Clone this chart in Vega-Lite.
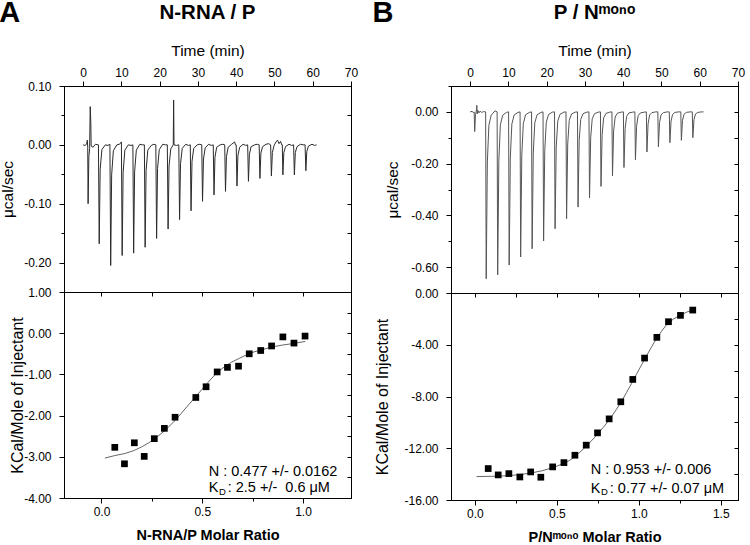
{
  "$schema": "https://vega.github.io/schema/vega-lite/v6.json",
  "padding": {"left": -1, "top": -1, "right": 5, "bottom": 2},
  "config": {
    "font": "Liberation Sans",
    "locale": {"number": {"decimal": ".", "thousands": ",", "grouping": [3], "currency": ["$", ""], "minus": "-"}},
    "view": {"stroke": "black", "strokeWidth": 1},
    "axis": {"grid": false, "domainColor": "black", "tickColor": "black", "labelColor": "black", "titleColor": "black", "labelFontSize": 12, "titleFontSize": 15.5, "titleFontWeight": "normal", "labelPadding": 5, "labelOverlap": false, "labelFlush": false, "tickWidth": 1, "domainWidth": 1},
    "title": {"color": "black"}
  },
  "datasets": {
    "thermoA": [
      {"t":0.0,"v":0.000},{"t":0.5,"v":-0.001},{"t":0.9,"v":0.001},{"t":1.1,"v":0.008},{"t":1.2,"v":-0.004},{"t":1.3,"v":-0.100},{"t":1.5,"v":-0.020},{"t":1.7,"v":-0.006},{"t":1.85,"v":0.065},{"t":2.0,"v":0.040},{"t":2.1,"v":-0.002},{"t":2.6,"v":-0.004},{"t":3.2,"v":0.001},
      {"t":4.0,"v":0.000},{"t":4.2,"v":-0.168},{"t":4.45,"v":-0.042},{"t":4.9,"v":-0.008},{"t":5.8,"v":0.000},{"t":6.5,"v":-0.001},
      {"t":7.0,"v":0.001},{"t":7.2,"v":-0.205},{"t":7.45,"v":-0.051},{"t":7.9,"v":-0.010},{"t":8.8,"v":0.000},{"t":9.5,"v":0.001},
      {"t":10.0,"v":0.005},{"t":10.2,"v":-0.188},{"t":10.45,"v":-0.047},{"t":10.9,"v":-0.009},{"t":11.8,"v":0.000},{"t":12.5,"v":-0.001},
      {"t":13.0,"v":0.000},{"t":13.2,"v":-0.184},{"t":13.45,"v":-0.046},{"t":13.9,"v":-0.009},{"t":14.8,"v":0.001},{"t":15.5,"v":0.000},
      {"t":16.0,"v":0.000},{"t":16.2,"v":-0.174},{"t":16.45,"v":-0.044},{"t":16.9,"v":-0.009},{"t":17.8,"v":-0.001},{"t":18.5,"v":0.001},
      {"t":19.0,"v":0.000},{"t":19.2,"v":-0.159},{"t":19.45,"v":-0.040},{"t":19.9,"v":-0.008},{"t":20.8,"v":0.001},{"t":21.5,"v":0.000},
      {"t":22.0,"v":0.000},{"t":22.2,"v":-0.143},{"t":22.45,"v":-0.036},{"t":22.9,"v":-0.007},{"t":23.55,"v":0.000},{"t":23.65,"v":0.076},{"t":23.75,"v":0.000},{"t":24.4,"v":-0.001},
      {"t":25.0,"v":0.000},{"t":25.2,"v":-0.127},{"t":25.45,"v":-0.032},{"t":25.9,"v":-0.006},{"t":26.8,"v":0.001},{"t":27.5,"v":-0.001},
      {"t":28.0,"v":0.000},{"t":28.2,"v":-0.112},{"t":28.45,"v":-0.028},{"t":28.9,"v":-0.006},{"t":29.8,"v":0.000},{"t":30.5,"v":0.001},
      {"t":31.0,"v":0.000},{"t":31.2,"v":-0.096},{"t":31.45,"v":-0.024},{"t":31.9,"v":-0.005},{"t":32.8,"v":0.001},{"t":33.5,"v":-0.001},
      {"t":34.0,"v":0.000},{"t":34.2,"v":-0.085},{"t":34.45,"v":-0.021},{"t":34.9,"v":-0.004},{"t":35.8,"v":0.000},{"t":36.5,"v":0.001},
      {"t":37.0,"v":0.000},{"t":37.2,"v":-0.079},{"t":37.45,"v":-0.020},{"t":37.9,"v":-0.004},{"t":38.8,"v":0.001},{"t":39.6,"v":0.005},{"t":39.8,"v":0.000},
      {"t":40.0,"v":0.000},{"t":40.2,"v":-0.070},{"t":40.45,"v":-0.018},{"t":40.9,"v":-0.004},{"t":41.8,"v":0.001},{"t":42.5,"v":-0.001},
      {"t":43.0,"v":0.000},{"t":43.2,"v":-0.062},{"t":43.45,"v":-0.016},{"t":43.9,"v":-0.003},{"t":44.8,"v":0.000},{"t":45.5,"v":0.001},
      {"t":46.0,"v":0.000},{"t":46.2,"v":-0.057},{"t":46.45,"v":-0.014},{"t":46.9,"v":-0.003},{"t":47.8,"v":0.001},{"t":48.5,"v":0.002},
      {"t":49.0,"v":0.000},{"t":49.2,"v":-0.053},{"t":49.45,"v":-0.013},{"t":49.9,"v":-0.001},{"t":50.4,"v":0.005},{"t":50.8,"v":0.008},{"t":51.2,"v":0.002},{"t":51.6,"v":0.006},{"t":51.9,"v":0.000},
      {"t":52.05,"v":0.000},{"t":52.2,"v":-0.051},{"t":52.45,"v":-0.013},{"t":52.9,"v":-0.003},{"t":53.8,"v":0.001},{"t":54.5,"v":-0.001},
      {"t":55.0,"v":0.000},{"t":55.2,"v":-0.051},{"t":55.45,"v":-0.013},{"t":55.9,"v":-0.003},{"t":56.8,"v":0.001},{"t":57.5,"v":0.000},
      {"t":58.0,"v":0.000},{"t":58.2,"v":-0.044},{"t":58.45,"v":-0.011},{"t":58.9,"v":-0.002},{"t":59.8,"v":0.001},{"t":60.5,"v":-0.001},{"t":61.0,"v":0.000}
    ],
    "thermoB": [
      {"t":0.0,"v":0.000},{"t":0.5,"v":0.002},{"t":0.9,"v":-0.003},{"t":1.05,"v":0.000},{"t":1.2,"v":-0.076},{"t":1.4,"v":-0.010},{"t":1.6,"v":0.002},{"t":1.75,"v":0.025},{"t":1.85,"v":-0.008},{"t":2.0,"v":0.006},{"t":2.3,"v":-0.004},{"t":2.6,"v":0.003},{"t":3.0,"v":-0.002},{"t":3.5,"v":0.001},
      {"t":4.05,"v":0.000},{"t":4.2,"v":-0.645},{"t":4.5,"v":-0.194},{"t":4.9,"v":-0.052},{"t":5.5,"v":-0.013},{"t":6.5,"v":0.004},
      {"t":7.05,"v":0.000},{"t":7.2,"v":-0.630},{"t":7.5,"v":-0.189},{"t":7.9,"v":-0.050},{"t":8.5,"v":-0.013},{"t":9.5,"v":-0.002},
      {"t":10.05,"v":0.000},{"t":10.2,"v":-0.592},{"t":10.5,"v":-0.178},{"t":10.9,"v":-0.047},{"t":11.5,"v":-0.012},{"t":12.5,"v":-0.002},
      {"t":13.05,"v":0.000},{"t":13.2,"v":-0.561},{"t":13.5,"v":-0.168},{"t":13.9,"v":-0.045},{"t":14.5,"v":-0.011},{"t":15.5,"v":-0.002},
      {"t":16.05,"v":0.000},{"t":16.2,"v":-0.529},{"t":16.5,"v":-0.159},{"t":16.9,"v":-0.042},{"t":17.5,"v":-0.011},{"t":18.5,"v":-0.002},
      {"t":19.05,"v":0.000},{"t":19.2,"v":-0.499},{"t":19.5,"v":-0.150},{"t":19.9,"v":-0.040},{"t":20.5,"v":-0.010},{"t":21.5,"v":-0.001},
      {"t":22.05,"v":0.000},{"t":22.2,"v":-0.452},{"t":22.5,"v":-0.136},{"t":22.9,"v":-0.036},{"t":23.5,"v":-0.009},{"t":24.5,"v":-0.001},
      {"t":25.05,"v":0.000},{"t":25.2,"v":-0.413},{"t":25.5,"v":-0.124},{"t":25.9,"v":-0.033},{"t":26.5,"v":-0.008},{"t":27.5,"v":-0.001},
      {"t":28.05,"v":0.000},{"t":28.2,"v":-0.368},{"t":28.5,"v":-0.110},{"t":28.9,"v":-0.029},{"t":29.5,"v":-0.007},{"t":30.5,"v":-0.001},
      {"t":31.05,"v":0.000},{"t":31.2,"v":-0.333},{"t":31.5,"v":-0.100},{"t":31.9,"v":-0.027},{"t":32.5,"v":-0.007},{"t":33.5,"v":-0.001},
      {"t":34.05,"v":0.000},{"t":34.2,"v":-0.288},{"t":34.5,"v":-0.086},{"t":34.9,"v":-0.023},{"t":35.5,"v":-0.006},{"t":36.5,"v":-0.001},
      {"t":37.05,"v":0.000},{"t":37.2,"v":-0.248},{"t":37.5,"v":-0.074},{"t":37.9,"v":-0.020},{"t":38.5,"v":-0.005},{"t":39.5,"v":-0.001},
      {"t":40.05,"v":0.000},{"t":40.2,"v":-0.215},{"t":40.5,"v":-0.065},{"t":40.9,"v":-0.017},{"t":41.5,"v":-0.004},{"t":42.5,"v":-0.001},
      {"t":43.05,"v":0.000},{"t":43.2,"v":-0.185},{"t":43.5,"v":-0.056},{"t":43.9,"v":-0.015},{"t":44.5,"v":-0.004},{"t":45.5,"v":-0.001},
      {"t":46.05,"v":0.000},{"t":46.2,"v":-0.155},{"t":46.5,"v":-0.047},{"t":46.9,"v":-0.012},{"t":47.5,"v":-0.003},{"t":48.5,"v":0.000},
      {"t":49.05,"v":0.000},{"t":49.2,"v":-0.135},{"t":49.5,"v":-0.041},{"t":49.9,"v":-0.011},{"t":50.5,"v":-0.003},{"t":51.5,"v":0.000},
      {"t":52.05,"v":0.000},{"t":52.2,"v":-0.119},{"t":52.5,"v":-0.036},{"t":52.9,"v":-0.010},{"t":53.5,"v":-0.002},{"t":54.5,"v":0.000},
      {"t":55.05,"v":0.000},{"t":55.2,"v":-0.110},{"t":55.5,"v":-0.033},{"t":55.9,"v":-0.009},{"t":56.5,"v":-0.002},{"t":57.5,"v":0.000},
      {"t":58.05,"v":0.000},{"t":58.2,"v":-0.100},{"t":58.5,"v":-0.030},{"t":58.9,"v":-0.008},{"t":59.5,"v":-0.002},{"t":60.5,"v":0.000},{"t":61.0,"v":0.000}
    ],
    "isoA": [
      {"r":0.066,"h":-2.77},{"r":0.114,"h":-3.17},{"r":0.163,"h":-2.66},{"r":0.212,"h":-2.99},{"r":0.262,"h":-2.56},{"r":0.312,"h":-2.31},{"r":0.365,"h":-2.04},{"r":0.468,"h":-1.56},{"r":0.519,"h":-1.30},{"r":0.574,"h":-0.94},{"r":0.625,"h":-0.83},{"r":0.680,"h":-0.80},{"r":0.733,"h":-0.50},{"r":0.790,"h":-0.42},{"r":0.844,"h":-0.31},{"r":0.900,"h":-0.09},{"r":0.955,"h":-0.24},{"r":1.010,"h":-0.07}
    ],
    "fitA": [
      {"r":0.017,"h":-3.03},{"r":0.066,"h":-2.97},{"r":0.116,"h":-2.92},{"r":0.160,"h":-2.85},{"r":0.199,"h":-2.76},{"r":0.235,"h":-2.66},{"r":0.265,"h":-2.56},{"r":0.315,"h":-2.36},{"r":0.365,"h":-2.12},{"r":0.423,"h":-1.79},{"r":0.473,"h":-1.51},{"r":0.522,"h":-1.23},{"r":0.572,"h":-0.96},{"r":0.614,"h":-0.80},{"r":0.646,"h":-0.70},{"r":0.680,"h":-0.62},{"r":0.713,"h":-0.54},{"r":0.746,"h":-0.47},{"r":0.796,"h":-0.40},{"r":0.846,"h":-0.335},{"r":0.895,"h":-0.29},{"r":0.945,"h":-0.255},{"r":1.011,"h":-0.20}
    ],
    "isoB": [
      {"r":0.081,"h":-13.57},{"r":0.142,"h":-14.06},{"r":0.207,"h":-13.96},{"r":0.274,"h":-14.22},{"r":0.340,"h":-13.83},{"r":0.402,"h":-14.24},{"r":0.474,"h":-13.44},{"r":0.543,"h":-13.11},{"r":0.610,"h":-12.54},{"r":0.679,"h":-11.76},{"r":0.748,"h":-10.81},{"r":0.819,"h":-9.73},{"r":0.890,"h":-8.41},{"r":0.963,"h":-6.68},{"r":1.035,"h":-5.03},{"r":1.110,"h":-3.43},{"r":1.181,"h":-2.22},{"r":1.254,"h":-1.73},{"r":1.329,"h":-1.32}
    ],
    "fitB": [
      {"r":0.010,"h":-14.19},{"r":0.100,"h":-14.17},{"r":0.173,"h":-14.14},{"r":0.260,"h":-14.06},{"r":0.335,"h":-13.93},{"r":0.410,"h":-13.74},{"r":0.478,"h":-13.49},{"r":0.530,"h":-13.23},{"r":0.579,"h":-12.93},{"r":0.630,"h":-12.43},{"r":0.681,"h":-11.82},{"r":0.732,"h":-11.14},{"r":0.782,"h":-10.40},{"r":0.825,"h":-9.72},{"r":0.864,"h":-8.98},{"r":0.895,"h":-8.37},{"r":0.925,"h":-7.69},{"r":0.956,"h":-6.98},{"r":0.986,"h":-6.27},{"r":1.017,"h":-5.55},{"r":1.047,"h":-4.85},{"r":1.078,"h":-4.16},{"r":1.108,"h":-3.51},{"r":1.139,"h":-2.95},{"r":1.169,"h":-2.45},{"r":1.210,"h":-2.02},{"r":1.250,"h":-1.74},{"r":1.290,"h":-1.49},{"r":1.331,"h":-1.29}
    ],
    "one": [{}]
  },
  "hconcat": [
    {
      "title": {"text": "A", "anchor": "start", "fontSize": 29, "fontWeight": "bold", "offset": -26, "frame": "bounds", "dx": -1},
      "spacing": 0,
      "bounds": "flush",
      "vconcat": [
        {
          "width": 287, "height": 206,
          "title": {"text": "N-RNA / P", "fontSize": 20.5, "fontWeight": "bold", "anchor": "middle", "offset": 20},
          "data": {"name": "thermoA"},
          "layer": [
            {
              "mark": {"type": "line", "color": "#2b2b2b", "strokeWidth": 1},
              "encoding": {
                "x": {"field": "t", "type": "quantitative", "scale": {"domain": [-5, 70], "nice": false, "zero": false},
                  "axis": {"orient": "top", "title": "Time (min)", "titlePadding": 8, "labelPadding": 2, "values": [0,5,10,15,20,25,30,35,40,45,50,55,60,65,70], "labelExpr": "datum.value % 10 == 0 ? datum.label : ''", "tickSize": {"condition": {"test": "datum.value % 10 == 0", "value": 5}, "value": 3}}},
                "y": {"field": "v", "type": "quantitative", "scale": {"domain": [-0.25, 0.1], "nice": false, "zero": false},
                  "axis": {"orient": "left", "title": "μcal/sec", "titlePadding": 8, "labelPadding": 8, "format": ".2f", "values": [-0.25,-0.2,-0.15,-0.1,-0.05,0,0.05,0.1], "labelExpr": "abs(datum.value*10 - round(datum.value*10)) < 1e-6 ? datum.label : ''", "tickSize": {"condition": {"test": "abs(datum.value*10 - round(datum.value*10)) < 1e-6", "value": 5}, "value": 3}}}
              }
            },
            {
              "mark": {"type": "point", "opacity": 0},
              "encoding": {
                "x": {"field": "t", "type": "quantitative"},
                "y": {"field": "v", "type": "quantitative",
                  "axis": {"orient": "right", "title": null, "labels": false, "values": [-0.25,-0.2,-0.15,-0.1,-0.05,0,0.05,0.1], "tickSize": -4}}
              }
            }
          ],
          "resolve": {"axis": {"y": "independent"}}
        },
        {
          "width": 287, "height": 206,
          "layer": [
            {
              "layer": [
                {
                  "data": {"name": "fitA"},
                  "mark": {"type": "line", "color": "#666666", "strokeWidth": 1},
                  "encoding": {
                    "x": {"field": "r", "type": "quantitative", "scale": {"domain": [-0.186, 1.238], "nice": false, "zero": false},
                      "axis": {"orient": "bottom", "title": "N-RNA/P Molar Ratio", "titleFontWeight": "bold", "titleFontSize": 14.5, "titlePadding": 11, "labelPadding": 3, "format": ".1f", "values": [0,0.25,0.5,0.75,1], "labelExpr": "abs(datum.value*2 - round(datum.value*2)) < 1e-6 ? datum.label : ''", "tickSize": {"condition": {"test": "abs(datum.value*2 - round(datum.value*2)) < 1e-6", "value": 5}, "value": 3}}},
                    "y": {"field": "h", "type": "quantitative", "scale": {"domain": [-4, 1], "nice": false, "zero": false},
                      "axis": {"orient": "left", "title": "KCal/Mole of Injectant", "titleFontSize": 16, "titlePadding": -2, "labelPadding": 8, "format": ".2f", "values": [-4,-3.5,-3,-2.5,-2,-1.5,-1,-0.5,0,0.5,1], "labelExpr": "datum.value % 1 == 0 ? datum.label : ''", "tickSize": {"condition": {"test": "datum.value % 1 == 0", "value": 5}, "value": 3}}}
                  }
                },
                {
                  "data": {"name": "isoA"},
                  "mark": {"type": "square", "filled": true, "color": "black", "size": 45, "opacity": 1},
                  "encoding": {
                    "x": {"field": "r", "type": "quantitative"},
                    "y": {"field": "h", "type": "quantitative"}
                  }
                },
                {
                  "data": {"name": "one"},
                  "mark": {"type": "text", "text": "N : 0.477 +/- 0.0162", "align": "left", "baseline": "alphabetic", "fontSize": 14.5, "color": "black"},
                  "encoding": {"x": {"datum": 0.532}, "y": {"datum": -3.46}}
                },
                {
                  "data": {"name": "one"},
                  "mark": {"type": "text", "text": "K", "align": "left", "baseline": "alphabetic", "fontSize": 14.5, "color": "black"},
                  "encoding": {"x": {"datum": 0.532}, "y": {"datum": -3.86}}
                },
                {
                  "data": {"name": "one"},
                  "mark": {"type": "text", "text": "D", "align": "left", "baseline": "alphabetic", "fontSize": 9.5, "color": "black", "dx": 10.3, "dy": 2.5},
                  "encoding": {"x": {"datum": 0.532}, "y": {"datum": -3.86}}
                },
                {
                  "data": {"name": "one"},
                  "mark": {"type": "text", "text": ": 2.5 +/- \u00a00.6 μM", "align": "left", "baseline": "alphabetic", "fontSize": 14.5, "color": "black", "dx": 19},
                  "encoding": {"x": {"datum": 0.532}, "y": {"datum": -3.86}}
                }
              ]
            },
            {
              "data": {"name": "fitA"},
              "mark": {"type": "point", "opacity": 0},
              "encoding": {
                "x": {"field": "r", "type": "quantitative", "axis": {"orient": "top", "title": null, "labels": false, "values": [0,0.25,0.5,0.75,1], "tickSize": -4}},
                "y": {"field": "h", "type": "quantitative", "axis": {"orient": "right", "title": null, "labels": false, "values": [-4,-3.5,-3,-2.5,-2,-1.5,-1,-0.5,0,0.5,1], "tickSize": -4}}
              }
            }
          ],
          "resolve": {"axis": {"x": "independent", "y": "independent"}}
        }
      ]
    },
    {
      "title": {"text": "B", "anchor": "start", "fontSize": 29, "fontWeight": "bold", "offset": -26, "frame": "bounds", "dx": -2},
      "spacing": 0,
      "bounds": "flush",
      "vconcat": [
        {
          "width": 287, "height": 207,
          "title": {"text": "P / Nᵐᵒⁿᵒ", "fontSize": 20.5, "fontWeight": "bold", "anchor": "middle", "offset": 20},
          "data": {"name": "thermoB"},
          "layer": [
            {
              "mark": {"type": "line", "color": "#555555", "strokeWidth": 1},
              "encoding": {
                "x": {"field": "t", "type": "quantitative", "scale": {"domain": [-5, 70], "nice": false, "zero": false},
                  "axis": {"orient": "top", "title": "Time (min)", "titlePadding": 8, "labelPadding": 2, "values": [0,5,10,15,20,25,30,35,40,45,50,55,60,65,70], "labelExpr": "datum.value % 10 == 0 ? datum.label : ''", "tickSize": {"condition": {"test": "datum.value % 10 == 0", "value": 5}, "value": 3}}},
                "y": {"field": "v", "type": "quantitative", "scale": {"domain": [-0.7, 0.1], "nice": false, "zero": false},
                  "axis": {"orient": "left", "title": "μcal/sec", "titlePadding": 10, "labelPadding": 8, "format": ".2f", "values": [-0.7,-0.6,-0.5,-0.4,-0.3,-0.2,-0.1,0,0.1], "labelExpr": "abs(datum.value*5 - round(datum.value*5)) < 1e-6 ? datum.label : ''", "tickSize": {"condition": {"test": "abs(datum.value*5 - round(datum.value*5)) < 1e-6", "value": 5}, "value": 3}}}
              }
            },
            {
              "mark": {"type": "point", "opacity": 0},
              "encoding": {
                "x": {"field": "t", "type": "quantitative"},
                "y": {"field": "v", "type": "quantitative",
                  "axis": {"orient": "right", "title": null, "labels": false, "values": [-0.7,-0.6,-0.5,-0.4,-0.3,-0.2,-0.1,0,0.1], "tickSize": -4}}
              }
            }
          ],
          "resolve": {"axis": {"y": "independent"}}
        },
        {
          "width": 287, "height": 207,
          "layer": [
            {
              "layer": [
                {
                  "data": {"name": "fitB"},
                  "mark": {"type": "line", "color": "#666666", "strokeWidth": 1},
                  "encoding": {
                    "x": {"field": "r", "type": "quantitative", "scale": {"domain": [-0.146, 1.605], "nice": false, "zero": false},
                      "axis": {"orient": "bottom", "title": "P/Nᵐᵒⁿᵒ Molar Ratio", "titleFontWeight": "bold", "titleFontSize": 14.5, "titlePadding": 11, "labelPadding": 3, "format": ".1f", "values": [0,0.25,0.5,0.75,1,1.25,1.5], "labelExpr": "abs(datum.value*2 - round(datum.value*2)) < 1e-6 ? datum.label : ''", "tickSize": {"condition": {"test": "abs(datum.value*2 - round(datum.value*2)) < 1e-6", "value": 5}, "value": 3}}},
                    "y": {"field": "h", "type": "quantitative", "scale": {"domain": [-16, 0], "nice": false, "zero": false},
                      "axis": {"orient": "left", "title": "KCal/Mole of Injectant", "titleFontSize": 16, "titlePadding": 13, "labelPadding": 8, "format": ".2f", "values": [-16,-14,-12,-10,-8,-6,-4,-2,0], "labelExpr": "datum.value % 4 == 0 ? datum.label : ''", "tickSize": {"condition": {"test": "datum.value % 4 == 0", "value": 5}, "value": 3}}}
                  }
                },
                {
                  "data": {"name": "isoB"},
                  "mark": {"type": "square", "filled": true, "color": "black", "size": 45, "opacity": 1},
                  "encoding": {
                    "x": {"field": "r", "type": "quantitative"},
                    "y": {"field": "h", "type": "quantitative"}
                  }
                },
                {
                  "data": {"name": "one"},
                  "mark": {"type": "text", "text": "N : 0.953 +/- 0.006", "align": "left", "baseline": "alphabetic", "fontSize": 14.5, "color": "black"},
                  "encoding": {"x": {"datum": 0.707}, "y": {"datum": -14.01}}
                },
                {
                  "data": {"name": "one"},
                  "mark": {"type": "text", "text": "K", "align": "left", "baseline": "alphabetic", "fontSize": 14.5, "color": "black"},
                  "encoding": {"x": {"datum": 0.707}, "y": {"datum": -15.43}}
                },
                {
                  "data": {"name": "one"},
                  "mark": {"type": "text", "text": "D", "align": "left", "baseline": "alphabetic", "fontSize": 9.5, "color": "black", "dx": 10.3, "dy": 2.5},
                  "encoding": {"x": {"datum": 0.707}, "y": {"datum": -15.43}}
                },
                {
                  "data": {"name": "one"},
                  "mark": {"type": "text", "text": ": 0.77 +/- 0.07 μM", "align": "left", "baseline": "alphabetic", "fontSize": 14.5, "color": "black", "dx": 19},
                  "encoding": {"x": {"datum": 0.707}, "y": {"datum": -15.43}}
                }
              ]
            },
            {
              "data": {"name": "fitB"},
              "mark": {"type": "point", "opacity": 0},
              "encoding": {
                "x": {"field": "r", "type": "quantitative", "axis": {"orient": "top", "title": null, "labels": false, "values": [0,0.25,0.5,0.75,1,1.25,1.5], "tickSize": -4}},
                "y": {"field": "h", "type": "quantitative", "axis": {"orient": "right", "title": null, "labels": false, "values": [-16,-14,-12,-10,-8,-6,-4,-2,0], "tickSize": -4}}
              }
            }
          ],
          "resolve": {"axis": {"x": "independent", "y": "independent"}}
        }
      ]
    }
  ],
  "spacing": 13
}
